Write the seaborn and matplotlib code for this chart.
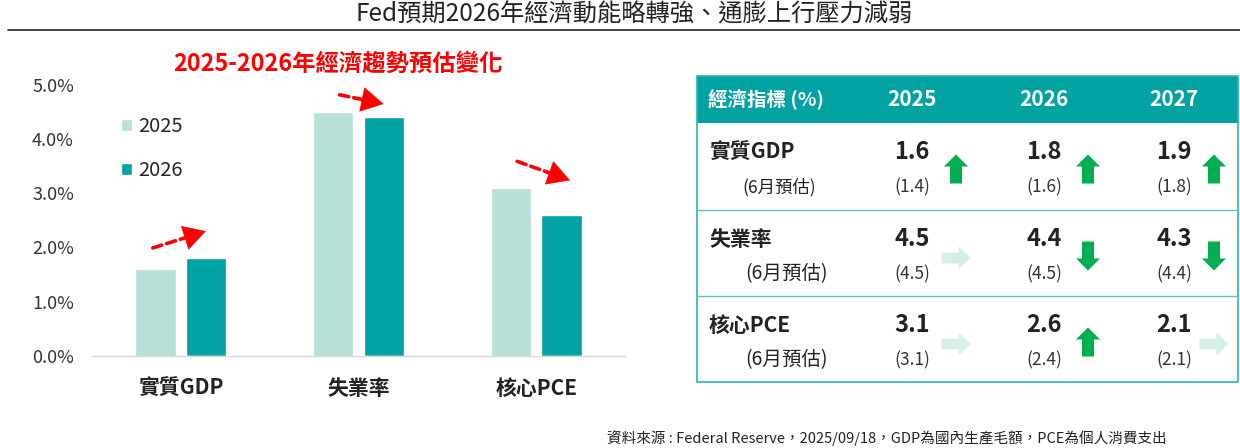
import pandas as pd
import seaborn as sns
import matplotlib.pyplot as plt
from matplotlib.patches import Rectangle, FancyArrow

# 長條圖資料
categories = ["實質GDP", "失業率", "核心PCE"]
years = ["2025", "2026"]
vals_2025 = [1.6, 4.5, 3.1]
vals_2026 = [1.8, 4.4, 2.6]

# 表格資料 (9月預估 / 6月預估)
table_years = ["2025", "2026", "2027"]
sep_gdp = [1.6, 1.8, 1.9]
jun_gdp = [1.4, 1.6, 1.8]
sep_unemp = [4.5, 4.4, 4.3]
jun_unemp = [4.5, 4.5, 4.4]
sep_pce = [3.1, 2.6, 2.1]
jun_pce = [3.1, 2.4, 2.1]

title = "Fed預期2026年經濟動能略轉強、通膨上行壓力減弱"
subtitle = "2025-2026年經濟趨勢預估變化"
source = "資料來源 : Federal Reserve，2025/09/18，GDP為國內生產毛額，PCE為個人消費支出"

LIGHT = "#B7E0D8"
TEAL = "#00A3A1"
GREEN = "#00B050"
PALE = "#D5EEE8"
DARK = "#222222"

sns.set_theme(style="white")
plt.rcParams["font.family"] = ["Noto Sans CJK TC", "DejaVu Sans"]

df = pd.DataFrame({
    "指標": categories * 2,
    "年": [years[0]] * 3 + [years[1]] * 3,
    "值": vals_2025 + vals_2026,
})

fig = plt.figure(figsize=(12.4, 4.48), dpi=100)

# 整張圖的像素座標: 標題、表格、註解
bg = fig.add_axes([0, 0, 1, 1])
bg.set_xlim(0, 1240)
bg.set_ylim(448, 0)
bg.axis("off")

bg.text(634, 14, title, ha="center", va="center", fontsize=17.5, color=DARK)
bg.plot([8, 1240], [30, 30], color=DARK, lw=1.2)
bg.text(338, 64, subtitle, ha="center", va="center", fontsize=16.8, color="#FF0000", weight="bold")
bg.text(1167, 438, source, ha="right", va="center", fontsize=10.5, color=DARK)

# ---- 長條圖 ----
ax = fig.add_axes([92 / 1240, 1 - 355.7 / 448, 533 / 1240, 270.7 / 448])
sns.barplot(data=df, x="指標", y="值", hue="年", palette=[LIGHT, TEAL],
            width=0.57, gap=0.2, saturation=1, ax=ax)
ax.set_xlim(-0.5, 2.5)
ax.set_ylim(0, 5)
ax.set_yticks(range(6))
ax.set_yticklabels([f"{v:.1f}%" for v in range(6)])
ax.set_xlabel("")
ax.set_ylabel("")
for s in ["left", "top", "right"]:
    ax.spines[s].set_visible(False)
ax.spines["bottom"].set_color("#D9D9D9")
ax.spines["bottom"].set_linewidth(1)
ax.tick_params(axis="y", length=0, pad=13, labelsize=13, labelcolor="#333333")
ax.tick_params(axis="x", length=0, pad=16, labelsize=15, labelcolor=DARK)
for t in ax.get_xticklabels():
    t.set_fontweight("bold")

h, l = ax.get_legend_handles_labels()
ax.legend(h, l, loc="center left", bbox_to_anchor=(121 / 1240, 1 - 148.5 / 448),
          bbox_transform=fig.transFigure, frameon=False, fontsize=14.5,
          handlelength=0.55, handleheight=0.55, handletextpad=0.3,
          labelspacing=1.12, borderpad=0, borderaxespad=0)

# 紅色虛線箭頭 (趨勢): 虛線桿 + 實心箭頭
arrow_pts = [((-0.158, 1.99), (0.141, 2.30)),
             ((0.893, 4.82), (1.141, 4.65)),
             ((1.893, 3.59), (2.19, 3.24))]
for (x0, y0), (x1, y1) in arrow_pts:
    xm, ym = x0 + 0.78 * (x1 - x0), y0 + 0.78 * (y1 - y0)
    ax.annotate("", xy=(xm, ym), xytext=(x0, y0),
                arrowprops=dict(arrowstyle="-", color="#FF0000", lw=2.6,
                                linestyle=(0, (2.6, 1.4)), shrinkA=0, shrinkB=0))
    ax.annotate("", xy=(x1, y1), xytext=(xm, ym),
                arrowprops=dict(arrowstyle="-|>,head_length=0.8,head_width=0.45",
                                color="#FF0000", lw=0.5, mutation_scale=19,
                                shrinkA=0, shrinkB=0))

# ---- 表格 ----
bg.add_patch(Rectangle((697, 76), 541, 47, color=TEAL, lw=0))
bg.add_patch(Rectangle((697, 76), 541, 306, fill=False, edgecolor="#2FB3AE", lw=1.2))
for y in [210, 296]:
    bg.plot([697, 1238], [y, y], color="#5CC2BD", lw=1)

col_x = [912, 1044, 1174]
arrow_x = [956, 1088, 1214]
bg.text(708, 100, "經濟指標 (%)", ha="left", va="center", fontsize=14, color="white", weight="bold")
for x, yr in zip(col_x, table_years):
    bg.text(x, 100, yr, ha="center", va="center", fontsize=15, color="white", weight="bold")

rows = [("實質GDP", sep_gdp, jun_gdp, 12.5, 742),
        ("失業率", sep_unemp, jun_unemp, 14, 745),
        ("核心PCE", sep_pce, jun_pce, 14, 745)]
row_top = [123, 210, 296]
for (name, sep, jun, subsize, subx), top in zip(rows, row_top):
    bg.text(709, top + 29, name, ha="left", va="center", fontsize=15, color=DARK, weight="bold")
    bg.text(subx, top + 64, "(6月預估)", ha="left", va="center", fontsize=subsize, color=DARK)
    yc = top + 46
    for x, ax_x, s, j in zip(col_x, arrow_x, sep, jun):
        bg.text(x, top + 29, f"{s:.1f}", ha="center", va="center", fontsize=17, color=DARK, weight="bold")
        bg.text(x, top + 64, f"({j:.1f})", ha="center", va="center", fontsize=12.5, color="#333333")
        if s > j:
            bg.add_patch(FancyArrow(ax_x, yc + 14.5, 0, -29, width=12, head_width=24, head_length=12,
                                    length_includes_head=True, color=GREEN, lw=0))
        elif s < j:
            bg.add_patch(FancyArrow(ax_x, yc - 14.5, 0, 29, width=12, head_width=24, head_length=12,
                                    length_includes_head=True, color=GREEN, lw=0))
        else:
            bg.add_patch(FancyArrow(ax_x - 14.5, yc + 2, 29, 0, width=11, head_width=23, head_length=12,
                                    length_includes_head=True, color=PALE, lw=0))

fig.savefig("out.png", dpi=100)
